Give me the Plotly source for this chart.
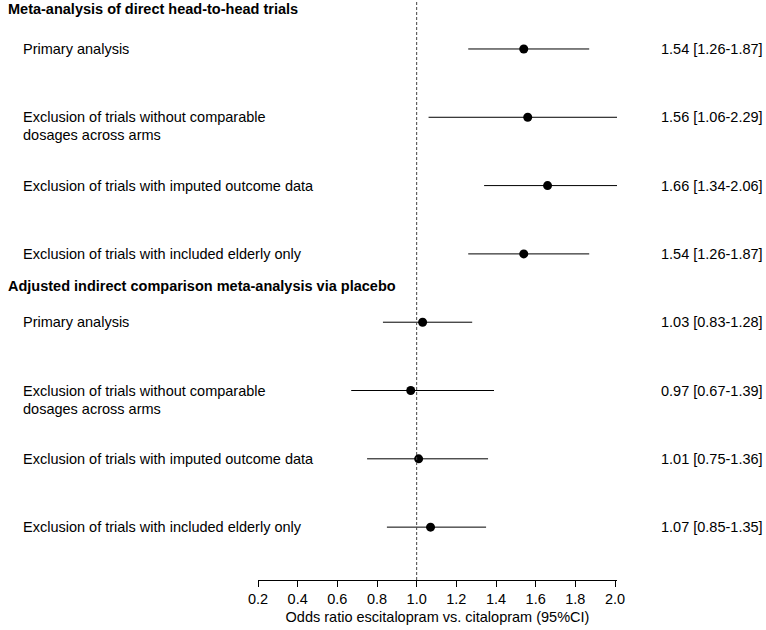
import plotly.graph_objects as go

# ---- data ----
section_titles = ["Meta-analysis of direct head-to-head trials",
                  "Adjusted indirect comparison meta-analysis via placebo"]
row_labels = [
    "Primary analysis",
    "Exclusion of trials without comparable<br>dosages across arms",
    "Exclusion of trials with imputed outcome data",
    "Exclusion of trials with included elderly only",
    "Primary analysis",
    "Exclusion of trials without comparable<br>dosages across arms",
    "Exclusion of trials with imputed outcome data",
    "Exclusion of trials with included elderly only",
]
odds_ratio = [1.54, 1.56, 1.66, 1.54, 1.03, 0.97, 1.01, 1.07]
ci_low = [1.26, 1.06, 1.34, 1.26, 0.83, 0.67, 0.75, 0.85]
ci_high = [1.87, 2.29, 2.06, 1.87, 1.28, 1.39, 1.36, 1.35]
tick_values = [0.2, 0.4, 0.6, 0.8, 1.0, 1.2, 1.4, 1.6, 1.8, 2.0]
x_title = "Odds ratio escitalopram vs. citalopram (95%CI)"

# row positions (index based); section headings sit between rows
row_pos = list(range(len(row_labels)))
section_pos = [-0.586, 3.47]

FONT = "Liberation Sans, Arial, sans-serif"
FS = 14.5

fig = go.Figure()

# CI lines
for y, lo, hi in zip(row_pos, ci_low, ci_high):
    fig.add_trace(go.Scatter(x=[lo, hi], y=[y, y], mode="lines",
                             line=dict(color="black", width=1),
                             showlegend=False, hoverinfo="skip"))
# point estimates
fig.add_trace(go.Scatter(x=odds_ratio, y=row_pos, mode="markers",
                         marker=dict(color="black", size=9),
                         showlegend=False, cliponaxis=False))

annotations = []
PLOT_L, PLOT_R = 258, 617
W = PLOT_R - PLOT_L
def px_to_paper(px):
    return (px - PLOT_L) / W

for y, lab in zip(row_pos, row_labels):
    for k, line in enumerate(lab.split("<br>")):
        annotations.append(dict(x=px_to_paper(21), xref="paper", y=y, yref="y",
                                text=line, showarrow=False, xanchor="left",
                                yanchor="middle", yshift=-18 * k,
                                font=dict(family=FONT, size=FS, color="black")))
for y, t in zip(section_pos, section_titles):
    annotations.append(dict(x=px_to_paper(6), xref="paper", y=y, yref="y",
                            text="<b>" + t + "</b>", showarrow=False,
                            xanchor="left", yanchor="middle",
                            font=dict(family=FONT, size=FS, color="black")))
for y, o, lo, hi in zip(row_pos, odds_ratio, ci_low, ci_high):
    annotations.append(dict(x=px_to_paper(765), xref="paper", y=y, yref="y",
                            text=f"{o:.2f} [{lo:.2f}-{hi:.2f}]", showarrow=False,
                            xanchor="right", yanchor="middle",
                            font=dict(family=FONT, size=FS, color="black")))

fig.update_layout(
    width=766, height=630,
    margin=dict(l=PLOT_L, r=766 - PLOT_R, t=0, b=50),
    paper_bgcolor="white", plot_bgcolor="white",
    font=dict(family=FONT, size=FS, color="black"),
    annotations=annotations,
    shapes=[dict(type="line", x0=1.0, x1=1.0, xref="x", y0=0, y1=1, yref="paper",
                 line=dict(color="#444", width=1, dash="3px,2px"))],
    xaxis=dict(range=[0.2, 2.0101], tickvals=tick_values,
               ticktext=[f"{v:.1f}" for v in tick_values],
               showgrid=False, zeroline=False, showline=True,
               linecolor="black", linewidth=1, ticks="outside", ticklen=6,
               tickcolor="black", tickwidth=1,
               tickfont=dict(family=FONT, size=FS, color="black"),
               title=dict(text=x_title, standoff=5,
                          font=dict(family=FONT, size=FS, color="black"))),
    yaxis=dict(range=[7.774, -0.717], visible=False, showgrid=False,
               zeroline=False),
)

fig.write_html("out.html")
